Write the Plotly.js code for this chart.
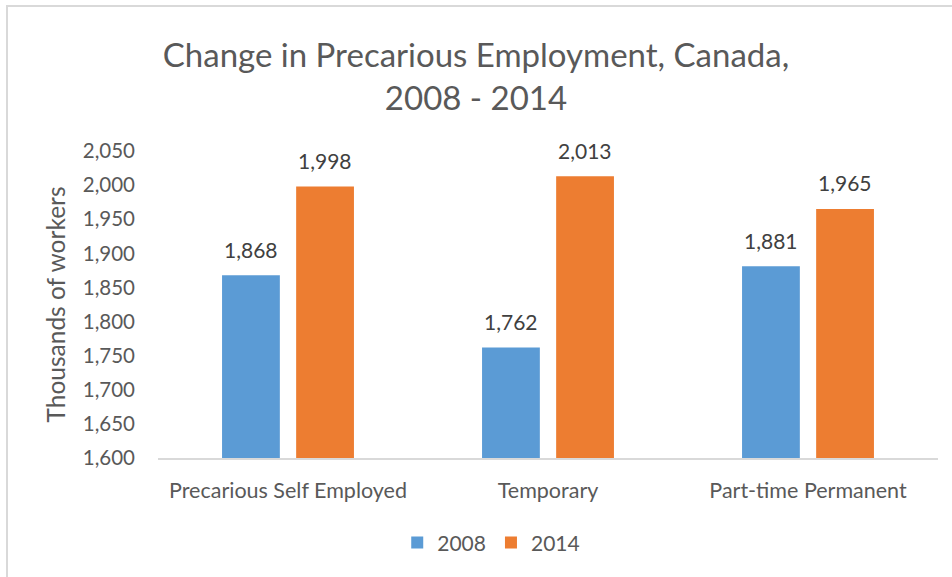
<!DOCTYPE html>
<html>
<head>
<meta charset="utf-8">
<script src="https://cdn.plot.ly/plotly-3.0.1.min.js"></script>
<style>
html,body{margin:0;padding:0;background:#fff;}
#wrap{position:relative;width:952px;height:577px;overflow:hidden;}
#chart{position:absolute;left:0;top:0;width:952px;height:577px;}
#frame{position:absolute;left:6px;top:5px;width:960px;height:600px;border:2px solid #D9D9D9;pointer-events:none;box-sizing:border-box;}
</style>
</head>
<body>
<div id="wrap"><div id="chart"></div><div id="frame"></div></div>
<script>
const categories = ["Precarious Self Employed", "Temporary", "Part-time Permanent"];
const values2008 = [1868, 1762, 1881];
const values2014 = [1998, 2013, 1965];
const tickVals = [1600, 1650, 1700, 1750, 1800, 1850, 1900, 1950, 2000, 2050];

const FONT = "Lato, 'Open Sans', sans-serif";
const fmt = v => v.toLocaleString('en-US');

const traces = [
  {type:'bar', name:'2008', x:categories, y:values2008,
   marker:{color:'#5B9BD5'}},
  {type:'bar', name:'2014', x:categories, y:values2014,
   marker:{color:'#ED7D31'}}
];

// value labels placed above each bar through the axes
const annotations = [];
[[values2008, -37], [values2014, 37]].forEach(([vals, dx]) => {
  vals.forEach((v, i) => {
    annotations.push({x:categories[i], y:v, xref:'x', yref:'y', text:fmt(v),
      showarrow:false, xshift:dx, yshift:26, yanchor:'middle', xanchor:'center',
      font:{size:21, color:'#404040', family:FONT}});
  });
});

const layout = {
  width:952, height:577,
  paper_bgcolor:'#fff', plot_bgcolor:'#fff',
  margin:{l:158, r:14, t:151, b:119},
  font:{family:FONT, color:'#595959'},
  title:{text:'Change in Precarious Employment, Canada,<br>2008 - 2014',
         font:{size:33, color:'#595959', family:FONT}, x:0.5, xanchor:'center',
         yref:'container', y:0.884, yanchor:'top'},
  barmode:'group', bargap:0.43, bargroupgap:0.22,
  xaxis:{showline:true, linecolor:'#D9D9D9', linewidth:2, ticks:'', showgrid:false,
         tickfont:{size:21.5, color:'#595959'}, ticklabelstandoff:12},
  yaxis:{range:[1600, 2050], tickvals:tickVals, ticktext:tickVals.map(fmt),
         showgrid:false, zeroline:false, showline:false, ticks:'',
         tickfont:{size:20.5, color:'#595959'}, ticklabelstandoff:22,
         title:{text:'Thousands of workers', font:{size:24.5, color:'#595959'}, standoff:10}},
  legend:{orientation:'h', xref:'container', x:0.516, xanchor:'center', yref:'container', y:0.059, yanchor:'middle',
          font:{size:21, color:'#595959'}, itemwidth:30, traceorder:'normal'},
  annotations: annotations,
  showlegend:true
};

Plotly.newPlot('chart', traces, layout, {displayModeBar:false, staticPlot:true});
</script>
</body>
</html>
